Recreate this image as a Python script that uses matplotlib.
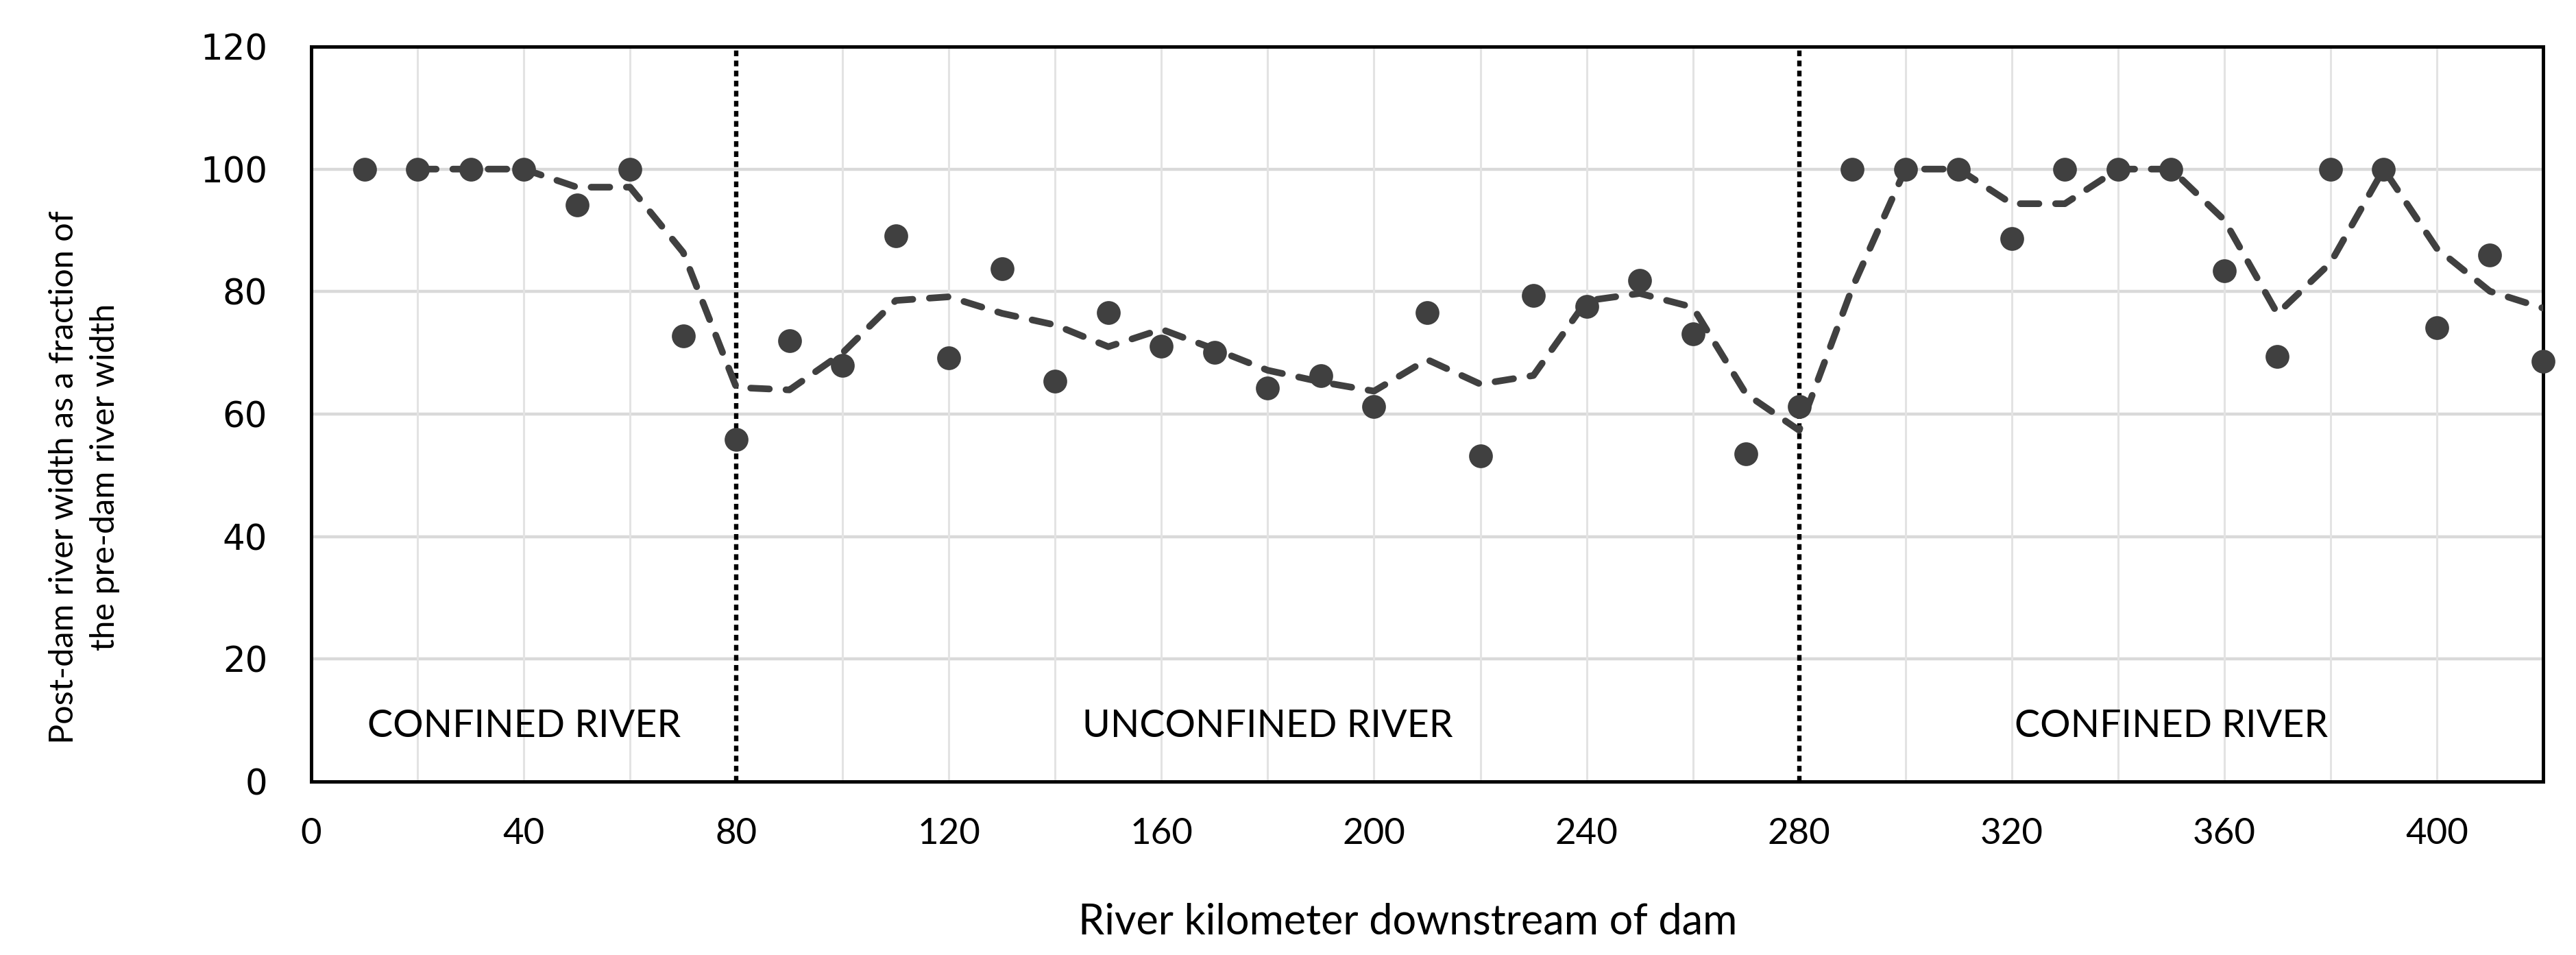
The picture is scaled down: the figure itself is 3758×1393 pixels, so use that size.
import matplotlib
matplotlib.use("Agg")
import matplotlib.pyplot as plt
import numpy as np

# Data
river_km = [10, 20, 30, 40, 50, 60, 70, 80, 90, 100, 110, 120, 130, 140, 150, 160, 170, 180,
            190, 200, 210, 220, 230, 240, 250, 260, 270, 280, 290, 300, 310, 320, 330, 340,
            350, 360, 370, 380, 390, 400, 410, 420]
width_frac = [100, 100, 100, 100, 94.1, 100, 72.8, 55.9, 72.0, 68.0, 89.1, 69.2, 83.7, 65.4,
              76.6, 71.1, 70.1, 64.2, 66.3, 61.2, 76.6, 53.2, 79.4, 77.6, 81.8, 73.1, 53.5,
              61.2, 100, 100, 100, 88.7, 100, 100, 100, 83.4, 69.4, 100, 100, 74.1, 86.0, 68.6]
boundaries = [80, 280]
zone_labels = ["CONFINED RIVER", "UNCONFINED RIVER", "CONFINED RIVER"]
zone_label_x = [40, 180, 350]
x_ticks = [0, 40, 80, 120, 160, 200, 240, 280, 320, 360, 400]
y_ticks = [0, 20, 40, 60, 80, 100, 120]

# 2-period moving average (trendline)
ma = np.convolve(width_frac, [0.5, 0.5], mode="valid")
ma_x = river_km[1:]

W, H, DPI = 3758, 1393, 100
fig = plt.figure(figsize=(W / DPI, H / DPI), dpi=DPI)
ax = fig.add_axes([454 / W, 1 - 1140 / H, (3710 - 454) / W, (1140 - 68) / H])

ax.set_xlim(0, 420)
ax.set_ylim(0, 120)

# grid
for yv in y_ticks[1:-1]:
    ax.axhline(yv, color="#d9d9d9", lw=3.2, zorder=0)
for xv in range(20, 420, 20):
    if xv in boundaries:
        continue
    ax.axvline(xv, color="#e3e3e3", lw=2.2, zorder=0)

for b in boundaries:
    ax.axvline(b, color="black", lw=4.6, ls=(0, (1.3, 1.0)), zorder=1)

ax.plot(ma_x, ma, color="#404040", lw=7, ls=(0, (2.8, 2.5)), dash_capstyle="round", zorder=3)
ax.plot(river_km, width_frac, "o", color="#404040", ms=25, mec="none", zorder=4, clip_on=False)

for lbl, xv in zip(zone_labels, zone_label_x):
    ax.text(xv, 9.0, lbl, ha="center", va="center", fontsize=40, family="Lato", color="black")

ax.set_xticks(x_ticks)
ax.set_yticks(y_ticks)
ax.tick_params(axis="x", length=0, labelsize=38, pad=38, colors="black")
ax.tick_params(axis="y", length=0, labelsize=37, pad=46, colors="black")
for lab in ax.get_xticklabels():
    lab.set_family("Lato")
for lab in ax.get_yticklabels():
    lab.set_family("DejaVu Sans")
for s in ax.spines.values():
    s.set_linewidth(3.6)
    s.set_color("black")

fig.text(2054 / W, 1 - 1345 / H, "River kilometer downstream of dam", fontsize=44,
         family="Lato", ha="center", va="center")
fig.text(123 / W, 1 - 696 / H, "Post-dam river width as a fraction of\nthe pre-dam river width",
         fontsize=35, family="Lato", rotation=90, ha="center", va="center",
         multialignment="center", linespacing=1.45)

fig.savefig("out.png", dpi=DPI)
